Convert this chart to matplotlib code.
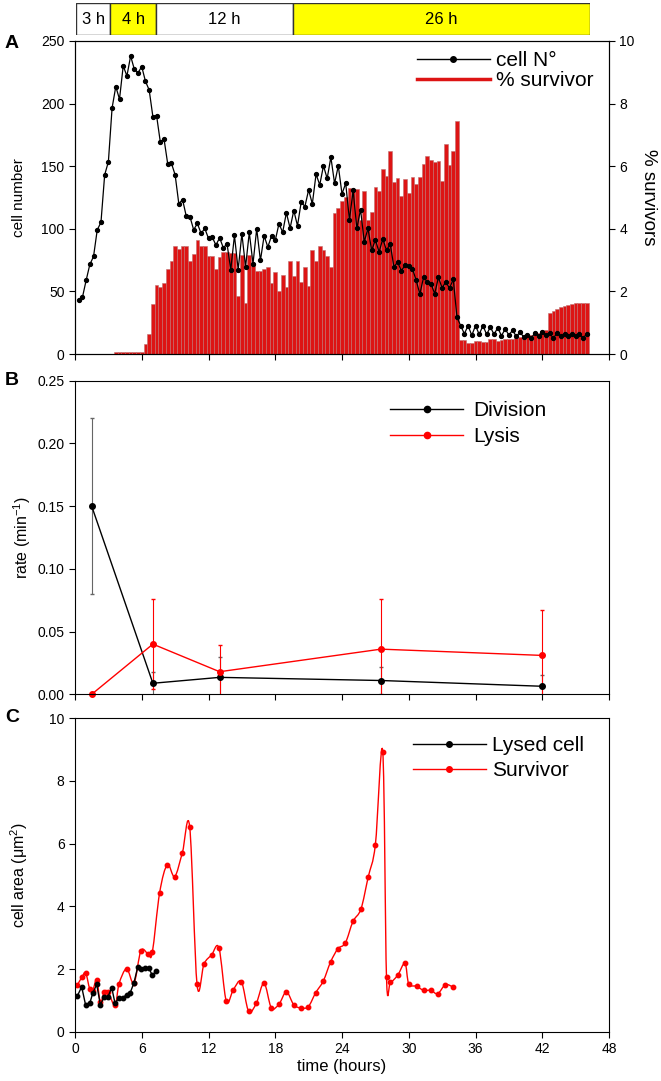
import numpy as np
import matplotlib
matplotlib.use("Agg")
import matplotlib.pyplot as plt
from matplotlib.lines import Line2D
from matplotlib.path import Path
from matplotlib.patches import PathPatch

plt.rcParams['font.family'] = ['Liberation Sans', 'DejaVu Sans']
plt.rcParams['mathtext.default'] = 'regular'

# top strip: phases (hours)
phase_hours = [3, 4, 12, 26]
phase_colors = ['white', 'yellow', 'white', 'yellow']

# panel A: one frame every 20 min
frame_h = 1 / 3
cell_count = [
    42.8, 45.2, 58.8, 71.5, 77.9, 99.2, 105.1, 143.1, 153.5, 196.5, 213.6, 203.5,
    230.1, 222.1, 238.0, 227.4, 224.7, 229.5, 217.8, 210.9, 189.6, 190.4, 169.4, 171.8,
    151.9, 152.4, 143.1, 119.9, 123.4, 110.1, 109.6, 99.2, 104.3, 96.3, 100.3, 92.3,
    93.4, 87.0, 92.8, 84.8, 88.0, 67.3, 94.7, 67.3, 96.0, 69.7, 97.1, 72.1,
    100.0, 74.7, 94.4, 85.4, 94.4, 90.7, 104.0, 97.3, 112.8, 100.5, 114.6, 102.4,
    121.5, 117.8, 131.1, 119.9, 143.6, 135.1, 150.3, 140.2, 157.2, 136.2, 150.3, 127.9,
    136.4, 107.2, 130.6, 100.3, 115.4, 89.6, 100.3, 82.7, 91.2, 81.4, 92.0, 82.7,
    88.0, 69.4, 73.4, 66.5, 70.7, 69.9, 68.1, 58.8, 47.9, 61.4, 57.4, 56.1,
    48.1, 61.2, 52.7, 57.7, 52.4, 59.8, 29.5, 22.6, 16.2, 22.6, 14.9,
    22.6, 15.7, 22.6, 15.7, 21.5, 15.7, 21.0, 14.6, 19.9, 15.2, 18.9, 14.1,
    17.3, 13.6, 15.2, 12.5, 16.8, 14.1, 17.3, 15.2, 16.8, 12.5, 16.8, 14.1,
    15.7, 14.1, 15.7, 14.1, 15.7, 13.0, 15.7]
pct_first_frame = 11
survivor_pct = [
    0.07, 0.07, 0.07, 0.07, 0.07, 0.07, 0.07, 0.07,
    0.33, 0.65, 1.6, 2.19, 2.14, 2.26, 2.71, 2.98, 3.44, 3.36, 3.45, 3.45,
    2.98, 3.2, 3.65, 3.45, 3.45,
    3.12, 3.14, 2.71, 3.1, 3.26, 3.26, 3.22, 3.22, 1.84, 3.17, 1.63, 3.17,
    2.88, 2.66, 2.66, 2.71, 2.77, 2.27, 2.61, 2.02, 2.53, 2.14, 2.96, 2.48,
    2.96, 2.30, 2.77, 2.16, 3.31, 2.96, 3.46, 3.31, 3.12, 2.77, 4.52, 4.66, 4.9,
    5.03, 5.3, 5.28, 5.28, 4.29, 5.22, 4.29, 4.55, 5.35, 5.22, 5.9, 5.7,
    6.5, 5.51, 5.62, 5.06, 5.6, 5.14, 5.67, 5.43, 5.67, 6.06, 6.34, 6.2,
    6.15, 6.17, 5.54, 6.71, 6.04, 6.49, 7.46,
    0.46, 0.46, 0.35, 0.35, 0.42, 0.42, 0.38, 0.38, 0.48, 0.48, 0.42, 0.45,
    0.48, 0.48, 0.48, 0.52, 0.55, 0.55, 0.58, 0.6, 0.62, 0.68, 0.73, 0.78,
    1.31, 1.38, 1.44, 1.49, 1.52, 1.56, 1.59, 1.63, 1.63, 1.63, 1.63]

# panel B: rates
rate_time = [1.5, 7, 13, 27.5, 42]
division_rate = [0.150, 0.0088, 0.0135, 0.011, 0.0064]
division_err = [0.070, 0.009, 0.016, 0.011, 0.009]
lysis_rate = [0.0, 0.040, 0.018, 0.036, 0.031]
lysis_err = [0.0, 0.036, 0.021, 0.040, 0.036]

# panel C: cell area
lysed_t = [0.21, 0.60, 0.96, 1.32, 1.59, 1.95, 2.28, 2.64, 2.97, 3.30, 3.60,
           3.96, 4.28, 4.64, 4.97, 5.30, 5.63, 5.93, 6.29, 6.62, 6.95, 7.31]
lysed_area = [1.14, 1.43, 0.84, 0.90, 1.22, 1.51, 0.86, 1.12, 1.12, 1.41, 0.90,
              1.09, 1.09, 1.17, 1.25, 1.56, 2.05, 1.99, 2.04, 2.04, 1.80, 1.94]
surv_t = [0.21, 0.60, 0.96, 1.32, 1.59, 1.95, 2.28, 2.64, 2.97, 3.60, 3.96, 4.64,
          5.30, 5.93, 6.59, 6.95, 7.61, 8.30, 8.96, 9.65, 10.31, 10.97, 11.60, 12.28,
          12.94, 13.60, 14.23, 14.95, 15.61, 16.30, 16.99, 17.65, 18.34, 19.00, 19.66,
          20.28, 20.97, 21.63, 22.32, 22.98, 23.64, 24.30, 24.99, 25.70, 26.35, 27.00,
          27.66, 28.00, 28.35, 29.00, 29.66, 30.00, 30.70, 31.34, 32.00, 32.60, 33.30, 34.00]
surv_area = [1.48, 1.73, 1.87, 1.37, 1.31, 1.65, 0.94, 1.27, 1.27, 0.84, 1.53, 2.01,
             1.55, 2.59, 2.47, 2.53, 4.44, 5.33, 4.95, 5.71, 6.53, 1.51, 2.17, 2.45,
             2.67, 0.97, 1.34, 1.60, 0.65, 0.91, 1.55, 0.76, 0.88, 1.27, 0.86,
             0.76, 0.80, 1.24, 1.62, 2.23, 2.65, 2.83, 3.52, 3.91, 4.93, 5.97,
             8.94, 1.73, 1.58, 1.80, 2.18, 1.53, 1.45, 1.32, 1.32, 1.21, 1.50, 1.42]

W, H = 661, 1081
fig = plt.figure(figsize=(W / 100, H / 100), dpi=100)
red = '#ff0000'
bar_red = '#dd1414'


def box(x0, y0, x1, y1):
    return [x0 / W, 1 - y1 / H, (x1 - x0) / W, (y1 - y0) / H]


def style(ax):
    for s in ax.spines.values():
        s.set_linewidth(0.8)
    ax.tick_params(direction='out', length=4, width=0.8, labelsize=10)


def smooth_path(x, y):
    # catmull-rom curve through the points, drawn as cubic bezier
    pts = np.column_stack([x, y])
    ext = np.vstack([pts[0], pts, pts[-1]])
    verts = [pts[0]]
    codes = [Path.MOVETO]
    for i in range(len(pts) - 1):
        p0, p1, p2, p3 = ext[i], ext[i + 1], ext[i + 2], ext[i + 3]
        verts += [p1 + (p2 - p0) / 6, p2 - (p3 - p1) / 6, p2]
        codes += [Path.CURVE4] * 3
    return Path(verts, codes)


# phase strip
axP = fig.add_axes(box(76, 3, 590, 35))
starts = np.concatenate([[0], np.cumsum(phase_hours)[:-1]])
axP.barh(0, phase_hours, left=starts, height=1, color=phase_colors,
         edgecolor='#333333', linewidth=1)
for s, h in zip(starts, phase_hours):
    axP.text(s + h / 2, 0, f'{h} h', ha='center', va='center', fontsize=12)
axP.set_xlim(0, sum(phase_hours))
axP.set_ylim(-0.5, 0.5)
axP.axis('off')

# panel A
axA = fig.add_axes(box(75, 41, 609, 354))
axA2 = axA.twinx()
t_cell = np.arange(1, len(cell_count) + 1) * frame_h
t_pct = (np.arange(len(survivor_pct)) + pct_first_frame) * frame_h
axA2.bar(t_pct, survivor_pct, width=frame_h, color=bar_red,
         edgecolor='#c07070', linewidth=0.4)
axA.set_zorder(axA2.get_zorder() + 1)
axA.patch.set_visible(False)
axA.plot(t_cell, cell_count, '-o', color='black', lw=0.9, ms=2.8)
axA.set_xlim(0, 48)
axA.set_ylim(0, 250)
axA.set_yticks(range(0, 251, 50))
axA.set_xticks(range(0, 49, 6))
axA.set_xticklabels([])
axA2.set_ylim(0, 10)
axA2.set_yticks(range(0, 11, 2))
style(axA)
style(axA2)
axA.set_ylabel('cell number', fontsize=11)
axA.yaxis.set_label_coords(-0.092, 0.5)
axA2.set_ylabel('% survivors', fontsize=13.5, rotation=270, labelpad=16)
hA = [Line2D([], [], color='black', marker='o', ms=4, lw=1),
      Line2D([], [], color=bar_red, lw=2.5)]
axA.legend(hA, ['cell N°', '% survivor'], loc='upper left',
           bbox_to_anchor=(0.64, 0.968), frameon=False, fontsize=15,
           handlelength=3.5, handletextpad=0.3, borderaxespad=0,
           borderpad=0, labelspacing=0.05)

# panel B
axB = fig.add_axes(box(75, 380.7, 609, 694.3))
axB.errorbar(rate_time, division_rate, yerr=division_err, fmt='none',
             ecolor='#666666', elinewidth=0.8, capsize=1.5)
axB.errorbar(rate_time, lysis_rate, yerr=lysis_err, fmt='none',
             ecolor=red, elinewidth=0.8, capsize=1.5)
axB.plot(rate_time, division_rate, '-o', color='black', lw=1, ms=4, clip_on=False)
axB.plot(rate_time, lysis_rate, '-o', color=red, lw=1, ms=4, clip_on=False)
axB.set_xlim(0, 48)
axB.set_ylim(0, 0.25)
axB.set_xticks(range(0, 49, 6))
axB.set_xticklabels([])
axB.set_yticks(np.arange(0, 0.26, 0.05))
axB.set_yticklabels([f'{v:.2f}' for v in np.arange(0, 0.26, 0.05)])
style(axB)
axB.set_ylabel('rate (min$^{-1}$)', fontsize=11.5)
axB.yaxis.set_label_coords(-0.078, 0.5)
hB = [Line2D([], [], color='black', marker='o', ms=4.5, lw=1),
      Line2D([], [], color=red, marker='o', ms=4.5, lw=1)]
axB.legend(hB, ['Division', 'Lysis'], loc='upper left',
           bbox_to_anchor=(0.59, 0.935), frameon=False, fontsize=15,
           handlelength=3.5, handletextpad=0.5, borderaxespad=0,
           borderpad=0, labelspacing=0.35)

# panel C
axC = fig.add_axes(box(75, 718.3, 609, 1031.7))
axC.add_patch(PathPatch(smooth_path(surv_t, surv_area), facecolor='none',
                        edgecolor=red, lw=1))
axC.plot(surv_t, surv_area, 'o', color=red, ms=3.2)
axC.plot(lysed_t, lysed_area, '-o', color='black', lw=1, ms=3.2)
axC.set_xlim(0, 48)
axC.set_ylim(0, 10)
axC.set_xticks(range(0, 49, 6))
axC.set_yticks(range(0, 11, 2))
style(axC)
axC.set_ylabel('cell area (μm$^2$)', fontsize=11.5)
axC.yaxis.set_label_coords(-0.085, 0.5)
axC.set_xlabel('time (hours)', fontsize=12, labelpad=2)
hC = [Line2D([], [], color='black', marker='o', ms=4, lw=1),
      Line2D([], [], color=red, marker='o', ms=4, lw=1)]
axC.legend(hC, ['Lysed cell', 'Survivor'], loc='upper left',
           bbox_to_anchor=(0.633, 0.944), frameon=False, fontsize=15,
           handlelength=3.5, handletextpad=0.3, borderaxespad=0,
           borderpad=0, labelspacing=0.3)

for lab, y in [('A', 44), ('B', 380), ('C', 718)]:
    fig.text(5 / W, 1 - y / H, lab, fontsize=14, fontweight='bold', va='center')

fig.savefig('out.png', dpi=100)
